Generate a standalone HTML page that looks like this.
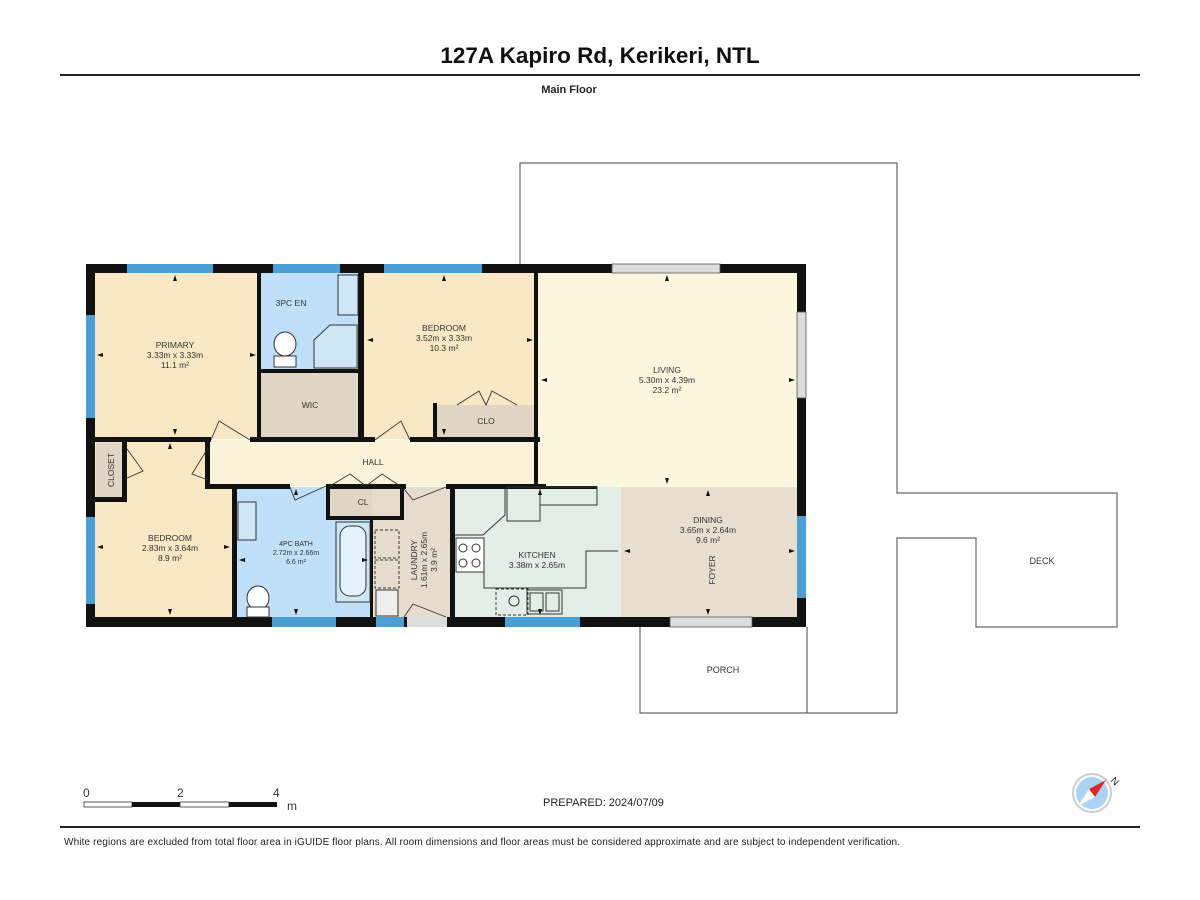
<!DOCTYPE html>
<html><head><meta charset="utf-8"><style>
body{margin:0;background:#fff;width:1200px;height:900px;overflow:hidden}
svg{display:block}
text{font-family:"Liberation Sans",sans-serif;fill:#333}
</style></head><body>
<svg width="1200" height="900" viewBox="0 0 1200 900">
<text x="600" y="63" font-size="22.5" font-weight="bold" text-anchor="middle" style="fill:#111">127A Kapiro Rd, Kerikeri, NTL</text>
<rect x="60" y="74" width="1080" height="2" fill="#222"/>
<text x="569" y="93" font-size="11" font-weight="bold" text-anchor="middle" style="fill:#222">Main Floor</text>

<!-- outdoor outlines -->
<g fill="none" stroke="#666" stroke-width="1.2">
<polyline points="520,264 520,163 897,163 897,493 1117,493 1117,627 976,627 976,538 897,538 897,713 640,713 640,627"/>
<line x1="807" y1="627" x2="807" y2="713"/>
</g>
<text x="1042" y="564" font-size="9" text-anchor="middle">DECK</text>
<text x="723" y="673" font-size="9" text-anchor="middle">PORCH</text>

<!-- room fills -->
<rect x="94" y="273" width="166" height="166" fill="#fae8c4"/>
<rect x="259" y="273" width="101" height="98" fill="#bfe0f8"/>
<rect x="259" y="371" width="101" height="68" fill="#e1d6c6"/>
<rect x="362" y="273" width="177" height="166" fill="#fae8c4"/>
<rect x="437" y="405" width="100" height="33" fill="#e1d6c6"/>
<rect x="538" y="273" width="260" height="215" fill="#fdf6df"/>
<rect x="94" y="440" width="142" height="178" fill="#fae8c4"/>
<rect x="208" y="440" width="332" height="46" fill="#fbf3d9"/>
<rect x="96" y="443" width="28" height="55" fill="#e1d6c6"/>
<rect x="236" y="487" width="136" height="131" fill="#bfe0f8"/>
<rect x="330" y="487" width="70" height="30" fill="#e1d6c6"/>
<rect x="372" y="487" width="80" height="131" fill="#e6dccd"/>
<rect x="453" y="487" width="168" height="131" fill="#e3efe6"/>
<rect x="621" y="487" width="177" height="131" fill="#e8dfd1"/>

<!-- walls -->
<g fill="#111">
<rect x="86" y="264" width="720" height="9"/>
<rect x="86" y="617" width="720" height="10"/>
<rect x="86" y="264" width="9" height="363"/>
<rect x="797" y="264" width="9" height="363"/>
<rect x="257" y="264" width="4" height="175"/>
<rect x="358" y="264" width="6" height="175"/>
<rect x="259" y="369" width="101" height="4"/>
<rect x="86" y="437" width="125" height="5"/>
<rect x="250" y="437" width="125" height="5"/>
<rect x="410" y="437" width="130" height="5"/>
<rect x="433" y="403" width="4" height="36"/>
<rect x="534" y="264" width="4" height="225"/>
<rect x="205" y="440" width="5" height="46"/>
<rect x="205" y="484" width="85" height="5"/>
<rect x="326" y="484" width="80" height="5"/>
<rect x="446" y="484" width="100" height="5"/>
<rect x="232" y="486" width="5" height="141"/>
<rect x="326" y="486" width="4" height="34"/>
<rect x="326" y="516" width="78" height="4"/>
<rect x="400" y="486" width="4" height="34"/>
<rect x="370" y="518" width="3" height="100"/>
<rect x="450" y="487" width="5" height="140"/>
<rect x="122" y="441" width="5" height="60"/>
<rect x="94" y="497" width="33" height="5"/>
<rect x="536" y="486" width="61" height="3"/>
</g>
<!-- windows -->
<g fill="#4a9fd6">
<rect x="127" y="264" width="86" height="9"/>
<rect x="273" y="264" width="67" height="9"/>
<rect x="384" y="264" width="98" height="9"/>
<rect x="86" y="315" width="9" height="103"/>
<rect x="86" y="517" width="9" height="87"/>
<rect x="272" y="617" width="64" height="10"/>
<rect x="376" y="617" width="28" height="10"/>
<rect x="505" y="617" width="75" height="10"/>
<rect x="797" y="516" width="9" height="82"/>
</g>
<g fill="#ddd" stroke="#555" stroke-width="0.8">
<rect x="612" y="264" width="108" height="9"/>
<rect x="797" y="312" width="9" height="86"/>
<rect x="670" y="617" width="82" height="10"/>
<rect x="407" y="617" width="40" height="10" stroke="none"/>
</g>

<!-- fixtures -->
<g fill="none" stroke="#333" stroke-width="1">
<rect x="338" y="275" width="20" height="40" fill="#cfe6f7"/>
<polygon points="314,352 314,340 330,325 357,325 357,368 314,368" fill="#cfe6f7"/>
<ellipse cx="285" cy="344" rx="11" ry="12" fill="#fff"/>
<rect x="274" y="356" width="22" height="11" fill="#fff"/>
<rect x="238" y="502" width="18" height="38" fill="#cfe6f7"/>
<ellipse cx="258" cy="598" rx="11" ry="12" fill="#fff"/>
<rect x="247" y="607" width="22" height="10" fill="#fff"/>
<rect x="336" y="522" width="34" height="80" fill="#cfe6f7"/>
<rect x="340" y="526" width="26" height="70" rx="10" fill="#e6f2fb"/>
<rect x="375" y="530" width="24" height="28" stroke-dasharray="3,2"/>
<rect x="375" y="560" width="24" height="28" stroke-dasharray="3,2"/>
<rect x="376" y="590" width="22" height="26" fill="#eee"/>
<rect x="456" y="538" width="28" height="34" fill="#fff"/>
<circle cx="463" cy="548" r="4"/><circle cx="476" cy="548" r="4"/>
<circle cx="463" cy="563" r="4"/><circle cx="476" cy="563" r="4"/>
<polyline points="455,535 483,535 505,515 505,489"/>
<rect x="507" y="487" width="33" height="34"/>
<rect x="540" y="487" width="57" height="18"/>
<polyline points="484,572 484,588 586,588 586,551 618,551"/>
<rect x="496" y="589" width="32" height="26" stroke-dasharray="3,2"/>
<circle cx="514" cy="601" r="5"/>
<rect x="527" y="590" width="35" height="24"/>
<rect x="530" y="593" width="13" height="18"/><rect x="546" y="593" width="13" height="18"/>
</g>
<!-- doors -->
<g fill="none" stroke="#333" stroke-width="0.9">
<polyline points="211,440 219,421 250,440"/>
<polyline points="375,440 401,421 410,440"/>
<polyline points="457,405 479,391 486,405 492,391 517,405"/>
<polyline points="208,448 192,474 208,480"/>
<polyline points="127,449 143,471 127,478"/>
<polyline points="290,487 295,500 326,486"/>
<polyline points="330,486 350,474 366,486 382,474 400,486"/>
<polyline points="404,489 413,500 446,487"/>
<polyline points="404,617 413,604 446,617"/>
</g>
<!-- dimension arrowheads -->
<g fill="#111">
<polygon points="175,275 173,281 177,281"/><polygon points="175,435 173,429 177,429"/>
<polygon points="97,355 103,353 103,357"/><polygon points="256,355 250,353 250,357"/>
<polygon points="444,275 442,281 446,281"/><polygon points="444,435 442,429 446,429"/>
<polygon points="367,340 373,338 373,342"/><polygon points="533,340 527,338 527,342"/>
<polygon points="667,275 665,281 669,281"/><polygon points="667,484 665,478 669,478"/>
<polygon points="541,380 547,378 547,382"/><polygon points="795,380 789,378 789,382"/>
<polygon points="170,443 168,449 172,449"/><polygon points="170,615 168,609 172,609"/>
<polygon points="97,547 103,545 103,549"/><polygon points="230,547 224,545 224,549"/>
<polygon points="708,490 706,496 710,496"/><polygon points="708,615 706,609 710,609"/>
<polygon points="624,551 630,549 630,553"/><polygon points="795,551 789,549 789,553"/>
<polygon points="239,560 245,558 245,562"/><polygon points="368,560 362,558 362,562"/>
<polygon points="296,489 294,495 298,495"/><polygon points="296,615 294,609 298,609"/>
<polygon points="540,489 538,495 542,495"/><polygon points="540,615 538,609 542,609"/>
</g>

<!-- labels -->
<g font-size="8.5" text-anchor="middle">
<text x="175" y="348">PRIMARY</text><text x="175" y="358">3.33m x 3.33m</text><text x="175" y="368">11.1 m²</text>
<text x="291" y="306">3PC EN</text>
<text x="310" y="408">WIC</text>
<text x="444" y="331">BEDROOM</text><text x="444" y="341">3.52m x 3.33m</text><text x="444" y="351">10.3 m²</text>
<text x="486" y="424">CLO</text>
<text x="667" y="373">LIVING</text><text x="667" y="383">5.30m x 4.39m</text><text x="667" y="393">23.2 m²</text>
<text x="373" y="465">HALL</text>
<text x="363" y="505">CL</text>
<text x="170" y="541">BEDROOM</text><text x="170" y="551">2.83m x 3.64m</text><text x="170" y="561">8.9 m²</text>
<text x="296" y="546" font-size="7">4PC BATH</text><text x="296" y="555" font-size="7">2.72m x 2.66m</text><text x="296" y="564" font-size="7">6.6 m²</text>
<text x="537" y="558">KITCHEN</text><text x="537" y="568">3.38m x 2.65m</text>
<text x="708" y="523">DINING</text><text x="708" y="533">3.65m x 2.64m</text><text x="708" y="543">9.6 m²</text>
<text transform="translate(114,470) rotate(-90)">CLOSET</text>
<text transform="translate(417,560) rotate(-90)">LAUNDRY</text>
<text transform="translate(427,560) rotate(-90)">1.61m x 2.65m</text>
<text transform="translate(437,560) rotate(-90)">3.9 m²</text>
<text transform="translate(715,570) rotate(-90)">FOYER</text>
</g>

<!-- scale -->
<g font-size="12" style="fill:#222">
<text x="83" y="797">0</text><text x="177" y="797">2</text><text x="273" y="797">4</text><text x="287" y="810">m</text>
</g>
<rect x="84" y="802" width="48" height="5" fill="#fff" stroke="#333" stroke-width="0.8"/>
<rect x="132" y="802" width="48" height="5" fill="#111"/>
<rect x="180" y="802" width="49" height="5" fill="#fff" stroke="#333" stroke-width="0.8"/>
<rect x="229" y="802" width="48" height="5" fill="#111"/>
<text x="543" y="806" font-size="11" style="fill:#222">PREPARED: 2024/07/09</text>
<!-- compass -->
<circle cx="1092" cy="793" r="19" fill="#fff" stroke="#ccc" stroke-width="2"/>
<circle cx="1092" cy="793" r="16" fill="#a9d3f2"/>
<polygon points="1106,780 1089,789 1095,797" fill="#e2232a"/>
<polygon points="1078,806 1089,789 1095,797" fill="#fff"/>
<text x="1110" y="781" font-size="10" style="fill:#222" transform="rotate(45 1110 781)">N</text>

<rect x="60" y="826" width="1080" height="2" fill="#222"/>
<text x="64" y="845" font-size="10" textLength="836" style="fill:#222">White regions are excluded from total floor area in iGUIDE floor plans. All room dimensions and floor areas must be considered approximate and are subject to independent verification.</text>
</svg>
</body></html>
